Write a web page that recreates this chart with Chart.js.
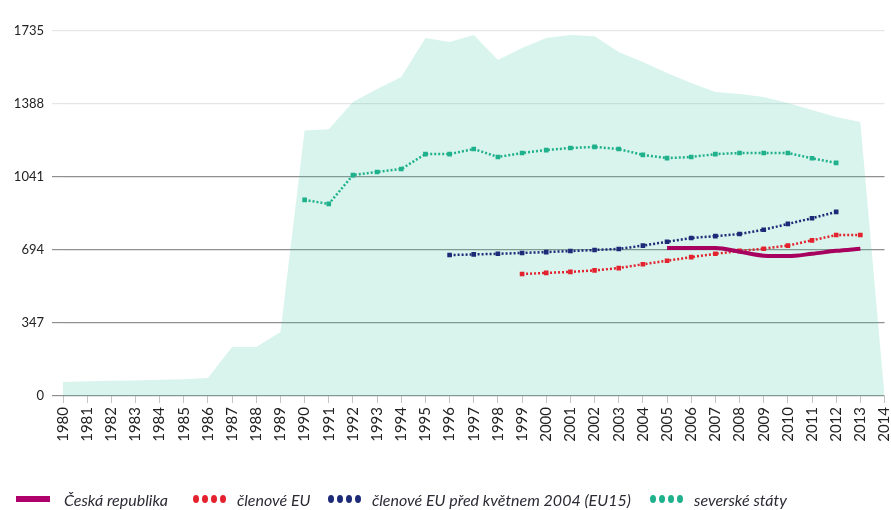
<!DOCTYPE html>
<html>
<head>
<meta charset="utf-8">
<script src="https://cdn.jsdelivr.net/npm/chart.js@4.4.1/dist/chart.umd.min.js"></script>
<style>
    html, body { margin: 0; padding: 0; background: #fff; }
    #wrap { position: relative; width: 891px; height: 510px; overflow: hidden; }
    #legend { position: absolute; left: 0; top: 489px; width: 891px; height: 20px;
              font-family: Lato, "Open Sans", sans-serif; font-style: italic; font-size: 16px; color: #2b2b35; }
    .item { position: absolute; top: 0; display: flex; align-items: center; height: 20px; white-space: nowrap; }
    .bar { width: 34px; height: 6px; margin-right: 14px; }
    .dots { display: flex; gap: 3px; margin-right: 11px; }
    .dots span { width: 6px; height: 8px; border-radius: 50%; display: inline-block; }
</style>
</head>
<body>
<div id="wrap">
    <canvas id="graf" width="891" height="510"></canvas>
    <div id="legend"></div>
</div>
<script>
// roky na ose x
const roky = ['1980', '1981', '1982', '1983', '1984', '1985', '1986', '1987', '1988', '1989',
              '1990', '1991', '1992', '1993', '1994', '1995', '1996', '1997', '1998', '1999',
              '2000', '2001', '2002', '2003', '2004', '2005', '2006', '2007', '2008', '2009',
              '2010', '2011', '2012', '2013', '2014'];

const osaY = [0, 347, 694, 1041, 1388, 1735];

// světle zelená plocha v pozadí
const plocha = [67, 70, 72, 74, 77, 80, 85, 233, 233, 304,
                1262, 1268, 1397, 1459, 1516, 1702, 1683, 1716, 1597, 1654,
                1702, 1716, 1710, 1635, 1588, 1535, 1488, 1445, 1435, 1421,
                1393, 1360, 1326, 1302, 0];

const ceskaRepublika = [null, null, null, null, null, null, null, null, null, null,
                        null, null, null, null, null, null, null, null, null, null,
                        null, null, null, null, null, 703, 703, 703, 686, 667,
                        665, 676, 690, 700, null];

const clenoveEU = [null, null, null, null, null, null, null, null, null, null,
                   null, null, null, null, null, null, null, null, null, 580,
                   585, 590, 597, 608, 626, 643, 660, 676, 690, 700,
                   715, 740, 765, 765, null];

const clenoveEU15 = [null, null, null, null, null, null, null, null, null, null,
                     null, null, null, null, null, null, 670, 673, 676, 680,
                     684, 689, 694, 699, 715, 733, 751, 760, 770, 790,
                     818, 845, 875, null, null];

const severskeStaty = [null, null, null, null, null, null, null, null, null, null,
                       932, 913, 1050, 1065, 1079, 1150, 1150, 1174, 1136, 1155,
                       1169, 1179, 1184, 1174, 1146, 1131, 1136, 1150, 1155, 1155,
                       1155, 1130, 1108, null, null];

const barvy = {
    cr: '#a8005e',
    eu: '#e3222e',
    eu15: '#1d2a78',
    sever: '#1fb08c'
};

function teckovana(label, data, barva) {
    return {
        label: label,
        data: data,
        borderColor: barva,
        backgroundColor: barva,
        borderWidth: 2.5,
        borderDash: [2, 2],
        pointStyle: 'rect',
        pointRadius: 1.5,
        fill: false,
        spanGaps: false,
        order: 1
    };
}

new Chart(document.getElementById('graf').getContext('2d'), {
    type: 'line',
    data: {
        labels: roky,
        datasets: [
            {
                label: 'Česká republika',
                data: ceskaRepublika,
                borderColor: barvy.cr,
                borderWidth: 4,
                pointRadius: 0,
                cubicInterpolationMode: 'monotone',
                fill: false,
                order: 0
            },
            teckovana('členové EU', clenoveEU, barvy.eu),
            teckovana('členové EU před květnem 2004 (EU15)', clenoveEU15, barvy.eu15),
            teckovana('severské státy', severskeStaty, barvy.sever),
            {
                label: 'plocha',
                data: plocha,
                borderWidth: 0,
                pointRadius: 0,
                backgroundColor: 'rgba(60, 200, 160, 0.2)',
                fill: 'origin',
                order: 10
            }
        ]
    },
    options: {
        responsive: false,
        animation: false,
        layout: { padding: { top: 31, right: -4, left: 0, bottom: 0 } },
        plugins: {
            legend: { display: false },
            tooltip: { enabled: false }
        },
        scales: {
            x: {
                border: { display: false },
                grid: { drawOnChartArea: false, tickLength: 7, color: '#c4c4c4' },
                ticks: {
                    minRotation: 90,
                    maxRotation: 90,
                    autoSkip: false,
                    padding: 4,
                    color: '#222',
                    font: { family: 'Lato', size: 15 }
                },
                afterFit: s => { s.height = 114; s.paddingRight = 0; }
            },
            y: {
                min: 0,
                max: 1735,
                afterBuildTicks: s => { s.ticks = osaY.map(v => ({ value: v })); },
                border: { display: false },
                grid: {
                    tickLength: 11,
                    lineWidth: 1.2,
                    color: c => (c.tick && c.tick.value > 1100) ? '#e6e6e6' : '#8f8f8f'
                },
                ticks: {
                    padding: 8,
                    color: '#222',
                    font: { family: 'Lato', size: 13 },
                    callback: v => String(v)
                },
                afterFit: s => { s.width = 63; }
            }
        }
    }
});

// legenda pod grafem
const legenda = [
    { text: 'Česká republika', barva: barvy.cr, typ: 'bar', x: 16 },
    { text: 'členové EU', barva: barvy.eu, typ: 'dots', x: 193 },
    { text: 'členové EU před květnem 2004 (EU15)', barva: barvy.eu15, typ: 'dots', x: 328 },
    { text: 'severské státy', barva: barvy.sever, typ: 'dots', x: 650 }
];
const legDiv = document.getElementById('legend');
legenda.forEach(p => {
    const it = document.createElement('div');
    it.className = 'item';
    it.style.left = p.x + 'px';
    let sw;
    if (p.typ === 'bar') {
        sw = document.createElement('span');
        sw.className = 'bar';
        sw.style.background = '#b0006b';
    } else {
        sw = document.createElement('span');
        sw.className = 'dots';
        for (let i = 0; i < 4; i++) {
            const d = document.createElement('span');
            d.style.background = p.barva;
            sw.appendChild(d);
        }
    }
    const t = document.createElement('span');
    t.textContent = p.text;
    it.appendChild(sw);
    it.appendChild(t);
    legDiv.appendChild(it);
});
</script>
</body>
</html>
